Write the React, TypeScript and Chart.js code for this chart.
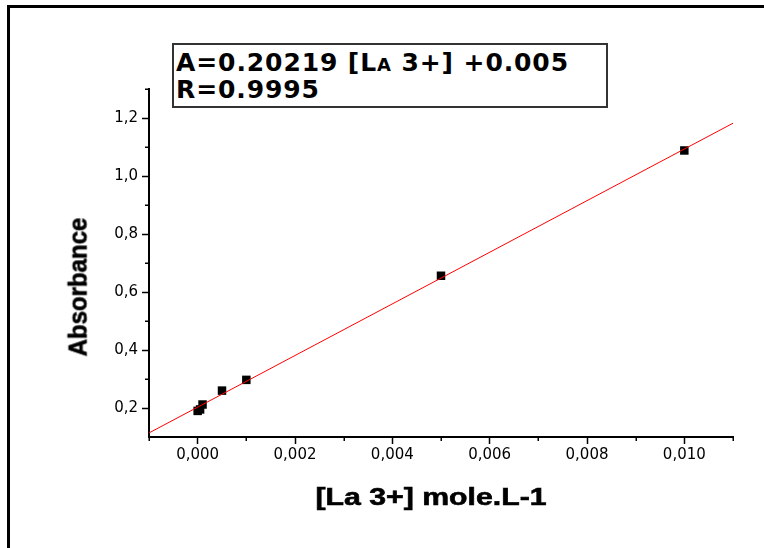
import { useEffect, useRef } from "react";
import { Chart, registerables } from "chart.js";

Chart.register(...registerables);

// ---- data ----
const concentrations = [0, 0.00005, 0.0001, 0.0005, 0.001, 0.005, 0.01];
const absorbances = [0.19, 0.195, 0.212, 0.26, 0.297, 0.656, 1.088];
const fitX = [-0.001, 0.011];
const fitY = [0.114, 1.182];
const xTicks = [0, 0.002, 0.004, 0.006, 0.008, 0.01];
const xMinorTicks = [-0.001, 0.001, 0.003, 0.005, 0.007, 0.009, 0.011];
const yTicks = [0.2, 0.4, 0.6, 0.8, 1.0, 1.2];
const yMinorTicks = [0.3, 0.5, 0.7, 0.9, 1.1, 1.3];
const equationLines = ["A=0.20219 [La 3+] +0.005", "R=0.9995"];
const xTitle = "[La 3+] mole.L-1";
const yTitle = "Absorbance";

const minorTicksPlugin = {
  id: "minorTicks",
  afterDraw(chart: any) {
    const { ctx, chartArea } = chart;
    const x = chart.scales.x;
    const y = chart.scales.y;
    ctx.save();
    ctx.strokeStyle = "#000";
    ctx.lineWidth = 1.5;
    xMinorTicks.forEach((v) => {
      const px = Math.round(x.getPixelForValue(v)) + 0.25;
      ctx.beginPath();
      ctx.moveTo(px, chartArea.bottom);
      ctx.lineTo(px, chartArea.bottom + 4);
      ctx.stroke();
    });
    yMinorTicks.forEach((v) => {
      const py = Math.round(y.getPixelForValue(v)) + 0.25;
      ctx.beginPath();
      ctx.moveTo(chartArea.left, py);
      ctx.lineTo(chartArea.left - 4, py);
      ctx.stroke();
    });
    ctx.restore();
  },
};

export default function App() {
  const ref = useRef<HTMLCanvasElement | null>(null);

  useEffect(() => {
    if (!ref.current) return;
    const chart = new Chart(ref.current, {
      type: "scatter",
      data: {
        datasets: [
          {
            type: "line",
            data: fitX.map((x, i) => ({ x, y: fitY[i] })),
            borderColor: "#ff0000",
            borderWidth: 1,
            pointRadius: 0,
            fill: false,
          } as any,
          {
            data: concentrations.map((x, i) => ({ x, y: absorbances[i] })),
            pointStyle: "rect",
            pointRadius: 6,
            backgroundColor: "#000",
            borderColor: "#000",
            borderWidth: 0,
          },
        ],
      },
      options: {
        animation: false,
        responsive: false,
        devicePixelRatio: 1,
        layout: { padding: { top: 89, right: 31, left: 0, bottom: 0 } },
        plugins: {
          legend: { display: false },
          tooltip: { enabled: false },
        },
        scales: {
          x: {
            type: "linear",
            min: -0.001,
            max: 0.011,
            afterFit(s: any) {
              s.height = 111;
            },
            afterBuildTicks(s: any) {
              s.ticks = xTicks.map((value) => ({ value }));
            },
            ticks: {
              callback: (v: any) => Number(v).toFixed(3).replace(".", ","),
              font: { family: "DejaVu Sans", size: 15 },
              color: "#000",
              padding: 2,
              maxRotation: 0,
              autoSkip: false,
            },
            grid: {
              drawOnChartArea: false,
              tickLength: 7,
              tickWidth: 1.5,
              tickColor: "#000",
            },
            border: { color: "#000", width: 2 },
          },
          y: {
            type: "linear",
            min: 0.1,
            max: 1.3,
            afterFit(s: any) {
              s.width = 149;
            },
            afterBuildTicks(s: any) {
              s.ticks = yTicks.map((value) => ({ value }));
            },
            ticks: {
              callback: (v: any) => Number(v).toFixed(1).replace(".", ","),
              font: { family: "DejaVu Sans", size: 15 },
              color: "#000",
              padding: 4,
              autoSkip: false,
            },
            grid: {
              drawOnChartArea: false,
              tickLength: 7,
              tickWidth: 1.5,
              tickColor: "#000",
            },
            border: { color: "#000", width: 2 },
          },
        },
      } as any,
      plugins: [minorTicksPlugin],
    });
    return () => chart.destroy();
  }, []);

  return (
    <div
      style={{
        position: "fixed",
        left: 0,
        top: 0,
        width: 764,
        height: 548,
        background: "#fff",
        overflow: "hidden",
      }}
    >
      <canvas
        ref={ref}
        width={764}
        height={548}
        style={{ position: "absolute", left: 0, top: 0, display: "block" }}
      />
      {/* outer frame (top and left edges) */}
      <div
        style={{
          position: "absolute",
          left: 7,
          top: 5,
          width: 800,
          height: 600,
          borderTop: "3px solid #000",
          borderLeft: "3px solid #000",
          pointerEvents: "none",
        }}
      />
      {/* equation box */}
      <div
        style={{
          position: "absolute",
          left: 172,
          top: 43,
          width: 430,
          height: 57,
          border: "2px solid #333",
          background: "#fff",
          fontFamily: "'DejaVu Sans', sans-serif",
          fontWeight: "bold",
          fontSize: 25,
          lineHeight: "27px",
          letterSpacing: "0.9px",
          fontVariant: "small-caps",
          color: "#000",
          paddingLeft: 2,
          paddingTop: 4,
          boxSizing: "content-box",
          whiteSpace: "pre",
        }}
      >
        {equationLines.map((l, i) => (
          <div key={i}>{l}</div>
        ))}
      </div>
      {/* x axis title */}
      <div
        style={{
          position: "absolute",
          left: 431,
          top: 497,
          transform: "translate(-50%, -50%) scaleX(1.26)",
          fontFamily: "'Liberation Sans', Arial, sans-serif",
          fontWeight: "bold",
          fontSize: 24,
          whiteSpace: "nowrap",
          color: "#000",
          WebkitTextStroke: "0.6px #000",
        }}
      >
        {xTitle}
      </div>
      {/* y axis title */}
      <div
        style={{
          position: "absolute",
          left: 78,
          top: 287,
          transform: "translate(-50%, -50%) rotate(-90deg) scaleY(1.1)",
          fontFamily: "'Liberation Sans', Arial, sans-serif",
          fontWeight: "bold",
          fontSize: 24,
          whiteSpace: "nowrap",
          color: "#000",
          WebkitTextStroke: "0.6px #000",
        }}
      >
        {yTitle}
      </div>
    </div>
  );
}
